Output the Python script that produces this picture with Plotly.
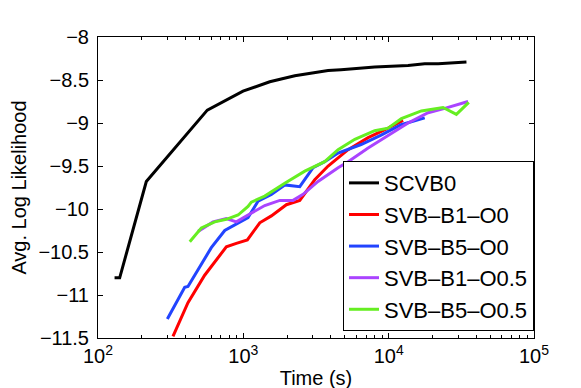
import plotly.graph_objects as go

# Series data (time in seconds, avg. log likelihood)
scvb0_t = [130, 141, 215, 565, 995, 1520, 2260, 3830, 4700, 8020, 13600, 17700, 21900, 34300]
scvb0_y = [-10.80, -10.80, -9.68, -8.85, -8.63, -8.52, -8.45, -8.39, -8.38, -8.35, -8.33, -8.31, -8.31, -8.29]

b1o0_t = [328, 416, 542, 764, 895, 1066, 1297, 1559, 1978, 2445, 3100, 3830, 5260, 7220, 9910, 12560]
b1o0_y = [-11.48, -11.09, -10.77, -10.44, -10.40, -10.36, -10.16, -10.08, -9.95, -9.90, -9.66, -9.50, -9.31, -9.17, -9.06, -8.97]

b5o0_t = [300, 395, 416, 602, 745, 920, 1077, 1262, 1559, 1928, 2445, 3020, 3630, 4487, 6460, 8870, 12170, 17710]
b5o0_y = [-11.28, -10.91, -10.90, -10.45, -10.25, -10.16, -10.10, -9.91, -9.83, -9.72, -9.74, -9.52, -9.45, -9.35, -9.25, -9.14, -9.02, -8.94]

b1o05_t = [488, 619, 764, 895, 1077, 1404, 1782, 2199, 2576, 3266, 4487, 5260, 7220, 9910, 13600, 18680, 24320, 35190]
b1o05_y = [-10.26, -10.15, -10.11, -10.15, -10.07, -9.96, -9.90, -9.90, -9.83, -9.68, -9.52, -9.45, -9.29, -9.14, -9.00, -8.88, -8.83, -8.75]

b5o05_t = [428, 514, 636, 764, 920, 1077, 1135, 1404, 1928, 2648, 3630, 4487, 5850, 8020, 9910, 12230, 16790, 23670, 29240, 35590]
b5o05_y = [-10.38, -10.22, -10.15, -10.12, -10.07, -9.97, -9.92, -9.85, -9.70, -9.56, -9.45, -9.31, -9.19, -9.09, -9.06, -8.95, -8.86, -8.82, -8.90, -8.76]

series_names = ["SCVB0", "SVB–B1–O0", "SVB–B5–O0", "SVB–B1–O0.5", "SVB–B5–O0.5"]
series_colors = ["#000000", "#FF0000", "#2244FF", "#AA44FF", "#66EE22"]

x_major = [100, 1000, 10000, 100000]
x_major_text = ["10<sup>2</sup>", "10<sup>3</sup>", "10<sup>4</sup>", "10<sup>5</sup>"]
x_minor = [m * d for d in (100, 1000, 10000) for m in range(2, 10)]
y_ticks = [-8, -8.5, -9, -9.5, -10, -10.5, -11, -11.5]

FONT = "Liberation Sans, Arial, sans-serif"

fig = go.Figure()
all_t = [scvb0_t, b1o0_t, b5o0_t, b1o05_t, b5o05_t]
all_y = [scvb0_y, b1o0_y, b5o0_y, b1o05_y, b5o05_y]
for i, (t, y) in enumerate(zip(all_t, all_y)):
    fig.add_trace(go.Scatter(
        x=t, y=y, mode="lines", name=series_names[i],
        legendgroup=str(i),
        line=dict(color=series_colors[i], width=3),
    ))

fig.update_layout(
    width=581, height=388,
    margin=dict(l=90, r=55, t=29, b=58),
    paper_bgcolor="white",
    plot_bgcolor="white",
    font=dict(family=FONT, size=20, color="black"),
    showlegend=True,
    legend=dict(
        x=1, xanchor="right", y=0.023, yanchor="bottom",
        bgcolor="white", bordercolor="black", borderwidth=1,
        font=dict(size=22),
        traceorder="grouped", tracegroupgap=0,
    ),
)

fig.update_xaxes(
    type="log", range=[2, 5],
    tickmode="array", tickvals=x_major, ticktext=x_major_text,
    ticks="inside", ticklen=5, tickcolor="black",
    minor=dict(tickmode="array", tickvals=x_minor, ticks="inside", ticklen=3, tickcolor="black", showgrid=False),
    showline=True, linecolor="black", linewidth=1, mirror="ticks",
    showgrid=False, zeroline=False,
    title=dict(text="Time (s)", standoff=4, font=dict(size=20)),
    automargin=False,
)
fig.update_yaxes(
    range=[-11.5, -8],
    tickmode="array", tickvals=y_ticks,
    ticks="inside", ticklen=5, tickcolor="black",
    ticklabelstandoff=4,
    showline=True, linecolor="black", linewidth=1, mirror="ticks",
    showgrid=False, zeroline=False,
    title=dict(text="Avg. Log Likelihood", standoff=6, font=dict(size=20)),
    automargin=False,
)

fig.write_html("out.html")
